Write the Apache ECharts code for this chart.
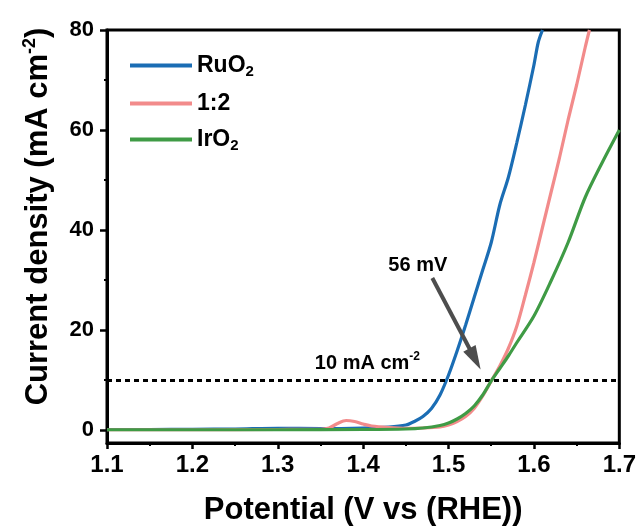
<!DOCTYPE html>
<html>
<head>
<meta charset="utf-8">
<title>LSV curves</title>
<script src="https://cdn.jsdelivr.net/npm/echarts@6/dist/echarts.min.js"></script>
<style>
  html, body { margin: 0; padding: 0; background: #fff; }
  #chart { width: 639px; height: 531px; }
</style>
</head>
<body>
<div id="chart"></div>
<script>
// ---- data ----
var seriesNames = ['RuO2', '1:2', 'IrO2'];

var ruX = [1.10, 1.15, 1.20, 1.25, 1.30, 1.35, 1.40, 1.43, 1.45, 1.46, 1.47, 1.48, 1.49, 1.50, 1.51, 1.52, 1.53, 1.54, 1.55, 1.56, 1.57, 1.58, 1.59, 1.60, 1.605, 1.61];
var ruY = [0.1, 0.1, 0.15, 0.2, 0.35, 0.3, 0.4, 0.6, 1.0, 1.7, 2.7, 4.3, 7.0, 11.0, 15.8, 21.0, 26.5, 32.0, 37.5, 45.0, 50.5, 57.5, 65.0, 73.0, 77.5, 80.0];

var pkX = [1.10, 1.20, 1.30, 1.35, 1.36, 1.37, 1.38, 1.39, 1.40, 1.41, 1.43, 1.45, 1.47, 1.49, 1.50, 1.51, 1.52, 1.53, 1.54, 1.55, 1.56, 1.57, 1.58, 1.59, 1.60, 1.61, 1.62, 1.63, 1.64, 1.65, 1.66, 1.665];
var pkY = [0.05, 0.05, 0.1, 0.15, 0.4, 1.3, 1.9, 1.7, 1.2, 0.8, 0.5, 0.35, 0.4, 0.6, 1.0, 1.7, 2.7, 4.3, 6.8, 9.8, 12.8, 16.3, 20.8, 27.0, 33.5, 40.5, 47.5, 54.5, 62.0, 69.0, 76.5, 80.0];

var irX = [1.10, 1.20, 1.30, 1.40, 1.45, 1.47, 1.49, 1.50, 1.51, 1.52, 1.53, 1.54, 1.55, 1.56, 1.57, 1.58, 1.60, 1.62, 1.64, 1.66, 1.68, 1.70];
var irY = [0.05, 0.05, 0.05, 0.1, 0.2, 0.4, 0.9, 1.4, 2.2, 3.3, 4.8, 7.0, 9.8, 12.3, 14.8, 17.5, 22.8, 29.8, 37.5, 46.5, 53.5, 60.0];

var yMajorTicks = [0, 20, 40, 60, 80];
var yMinorTicks = [10, 30, 50, 70];
var refLevel = 10;                       // 10 mA cm-2 line
var arrowFrom = [1.481, 30.4];
var arrowTo = [1.531, 14.2];
var refLabelAt = [1.405, 13.4];
var mvLabelAt = [1.464, 33];

var colors = ['#1b6db4', '#f28b8b', '#3f9b45'];
var FONT = '"Liberation Sans", Arial, sans-serif';

function pairs(xs, ys) {
    return xs.map(function (x, i) { return [x, ys[i]]; });
}

var legendText = {
    'RuO2': '{a|RuO}{s|2}',
    '1:2': '{a|1:2}',
    'IrO2': '{a|IrO}{s|2}'
};

var dom = document.getElementById('chart');
var myChart = echarts.init(dom, null, { renderer: 'canvas' });

var lineSeries = [
    { name: seriesNames[0], x: ruX, y: ruY },
    { name: seriesNames[1], x: pkX, y: pkY },
    { name: seriesNames[2], x: irX, y: irY }
].map(function (s, i) {
    return {
        name: s.name,
        type: 'line',
        data: pairs(s.x, s.y),
        showSymbol: false,
        smooth: 0.3,
        lineStyle: { width: 3.2, color: colors[i] },
        itemStyle: { color: colors[i] },
        z: 3 + i
    };
});

// annotations: dotted 10 mA line, arrow and the two labels
lineSeries.push({
    name: 'notes',
    type: 'line',
    data: [],
    silent: true,
    markLine: {
        silent: true,
        symbol: ['none', 'none'],
        label: { show: false },
        data: [
            [{ coord: [1.1, refLevel], lineStyle: { color: '#000', width: 3, type: [5, 4] } },
             { coord: [1.7, refLevel] }],
            [{ coord: arrowFrom, symbol: 'none', lineStyle: { color: '#4d4d4d', width: 4, type: 'solid' } },
             { coord: arrowTo, symbol: 'triangle', symbolSize: [14, 24] }]
        ]
    },
    markPoint: {
        silent: true,
        symbol: 'circle',
        symbolSize: 0,
        label: {
            show: true,
            position: 'inside',
            color: '#000',
            fontFamily: FONT,
            fontWeight: 'bold',
            rich: {
                t: { fontSize: 20, fontWeight: 'bold', fontFamily: FONT, color: '#000' },
                sup: { fontSize: 12, fontWeight: 'bold', fontFamily: FONT, color: '#000', padding: [0, 0, 12, 0] }
            }
        },
        data: [
            { coord: refLabelAt, label: { formatter: '{t|10 mA cm}{sup|-2}' } },
            { coord: mvLabelAt, label: { formatter: '{t|56 mV}' } }
        ]
    },
    z: 2
});

option = {
    animation: false,
    backgroundColor: '#fff',
    color: colors,
    grid: {
        left: 107, right: 19, top: 30, bottom: 88,
        show: true,
        borderColor: '#000',
        borderWidth: 3,
        backgroundColor: 'transparent'
    },
    legend: {
        data: seriesNames,
        orient: 'vertical',
        left: 130,
        top: 54,
        padding: 0,
        itemWidth: 62,
        itemHeight: 4,
        itemGap: 13,
        icon: 'rect',
        selectedMode: false,
        formatter: function (name) { return legendText[name]; },
        textStyle: {
            fontSize: 23,
            fontWeight: 'bold',
            fontFamily: FONT,
            color: '#000',
            padding: [0, 0, 0, 0],
            rich: {
                a: { fontSize: 23, fontWeight: 'bold', fontFamily: FONT, color: '#000', lineHeight: 27 },
                s: { fontSize: 15, fontWeight: 'bold', fontFamily: FONT, color: '#000', padding: [12, 0, 0, 0] }
            }
        }
    },
    xAxis: {
        type: 'value',
        min: 1.1,
        max: 1.7,
        interval: 0.1,
        name: 'Potential (V vs (RHE))',
        nameLocation: 'middle',
        nameGap: 52,
        nameTextStyle: { fontSize: 31, fontWeight: 'bold', fontFamily: FONT, color: '#000' },
        axisLine: { onZero: false, lineStyle: { color: '#000', width: 3 } },
        axisTick: { inside: false, length: 6, lineStyle: { width: 2.5, color: '#000' } },
        minorTick: { show: true, splitNumber: 2, length: 3, lineStyle: { width: 2, color: '#000' } },
        axisLabel: { fontSize: 24, fontWeight: 'bold', fontFamily: FONT, color: '#000', margin: 10 },
        splitLine: { show: false }
    },
    yAxis: [{
        type: 'value',
        min: -2.6,
        max: 80,
        name: 'Current density (mA cm{sup|-2})',
        nameLocation: 'middle',
        nameGap: 52,
        nameRotate: 90,
        nameTextStyle: {
            fontSize: 31, fontWeight: 'bold', fontFamily: FONT, color: '#000',
            padding: [0, 0, 0, 40],
            rich: {
                sup: { fontSize: 18, fontWeight: 'bold', fontFamily: FONT, color: '#000', padding: [0, 0, 16, 0] }
            }
        },
        axisLine: { onZero: false, lineStyle: { color: '#000', width: 3 } },
        axisTick: { customValues: yMajorTicks, length: 7, lineStyle: { width: 2.5, color: '#000' } },
        axisLabel: { customValues: yMajorTicks, fontSize: 22, fontWeight: 'bold', fontFamily: FONT, color: '#000', margin: 13 },
        splitLine: { show: false }
    }, {
        type: 'value',
        position: 'left',
        min: -2.6,
        max: 80,
        axisLine: { show: false },
        axisTick: { customValues: yMinorTicks, length: 3, lineStyle: { width: 2, color: '#000' } },
        axisLabel: { show: false },
        splitLine: { show: false }
    }],
    series: lineSeries
};

if (option && typeof option === 'object') {
    myChart.setOption(option, true);
}
</script>
</body>
</html>
